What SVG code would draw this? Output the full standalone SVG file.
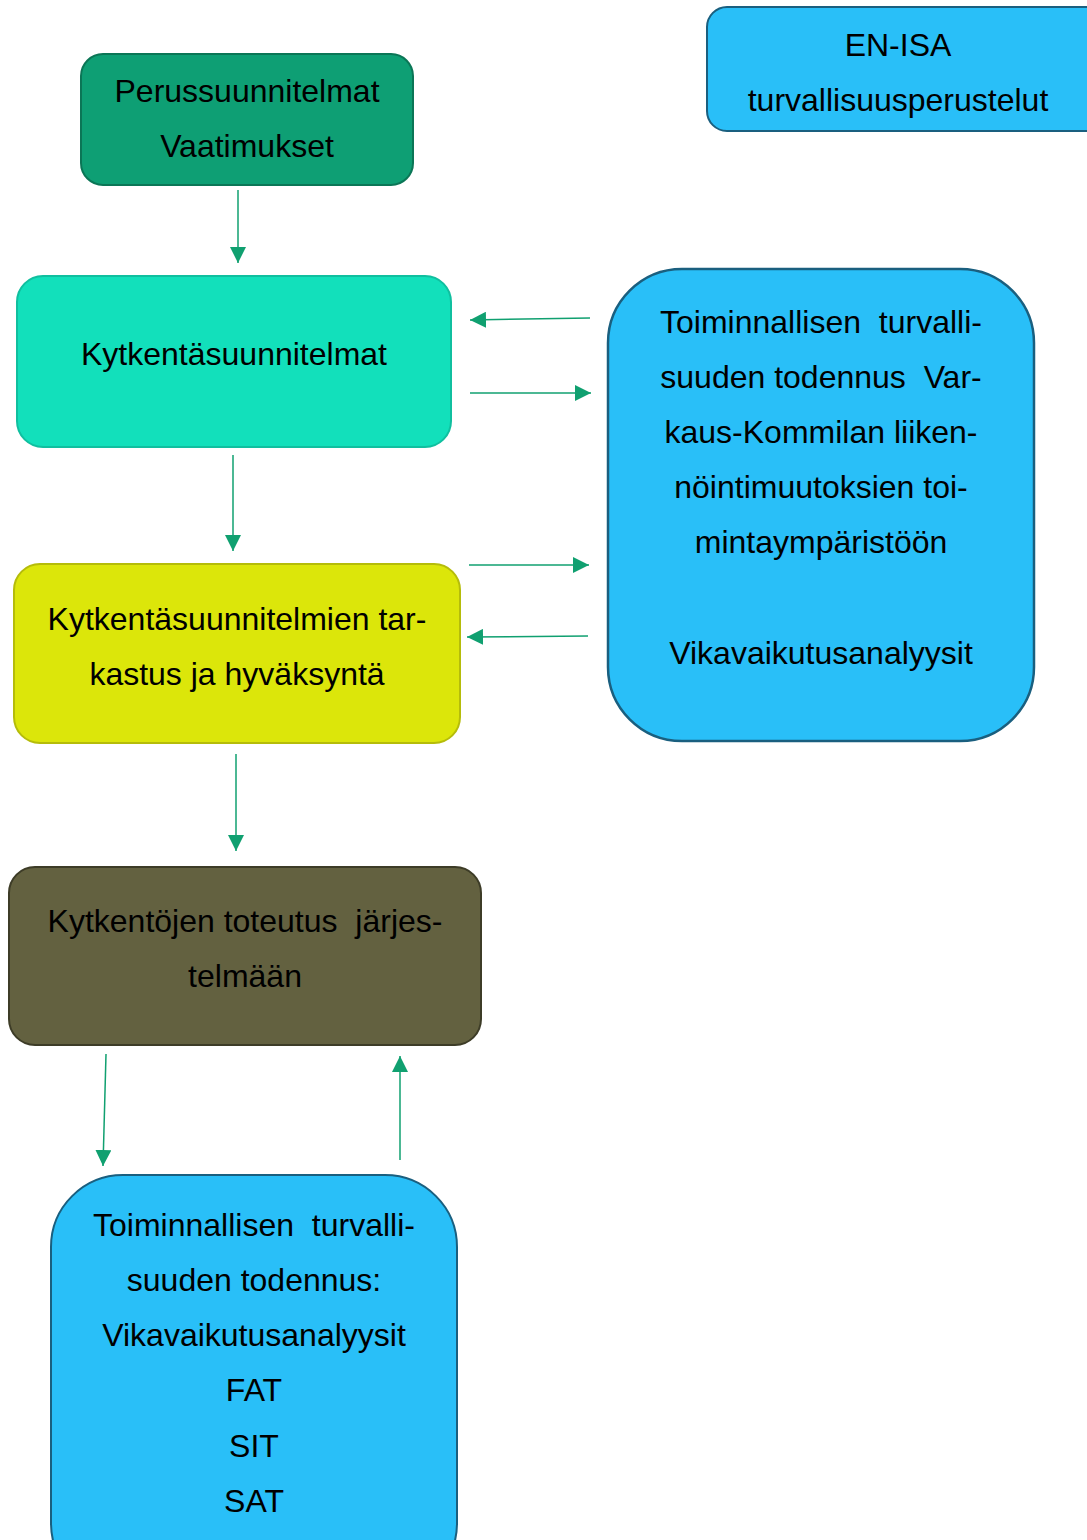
<svg xmlns="http://www.w3.org/2000/svg" width="1087" height="1540" viewBox="0 0 1087 1540">
<style>
text{font-family:"Liberation Sans",Arial,sans-serif;font-size:32px;fill:#000;text-anchor:middle}
.c{stroke:#10a070;stroke-width:1.5;fill:none}
</style>
<defs>
<marker id="ah" markerUnits="userSpaceOnUse" markerWidth="16" markerHeight="16" viewBox="0 0 16 16" refX="16" refY="8" orient="auto">
<path d="M0,0 L16,8 L0,16 Z" fill="#10a070"/>
</marker>
</defs>
<rect width="1087" height="1540" fill="#fff"/>
<g id="n1">
<rect x="81" y="54" width="332" height="131" rx="22" fill="#0e9f74" stroke="#0b7656" stroke-width="2"/>
<text x="247" y="102">Perussuunnitelmat</text>
<text x="247" y="157">Vaatimukset</text>
</g>
<g id="n2">
<rect x="17" y="276" width="434" height="171" rx="26" fill="#12e0bb" stroke="#10bf9f" stroke-width="2"/>
<text x="234" y="365">Kytkentäsuunnitelmat</text>
</g>
<g id="n3">
<rect x="14" y="564" width="446" height="179" rx="26" fill="#dce60a" stroke="#b5bc0a" stroke-width="2"/>
<text x="237" y="630">Kytkentäsuunnitelmien tar-</text>
<text x="237" y="685">kastus ja hyväksyntä</text>
</g>
<g id="n4">
<rect x="9" y="867" width="472" height="178" rx="26" fill="#636140" stroke="#3d3c27" stroke-width="2"/>
<text x="245" y="932" xml:space="preserve">Kytkentöjen toteutus  järjes-</text>
<text x="245" y="987">telmään</text>
</g>
<g id="n5">
<rect x="51" y="1175" width="406" height="420" rx="72" fill="#29bff8" stroke="#1a5f7f" stroke-width="2"/>
<text x="254" y="1236" xml:space="preserve">Toiminnallisen  turvalli-</text>
<text x="254" y="1291">suuden todennus:</text>
<text x="254" y="1346">Vikavaikutusanalyysit</text>
<text x="254" y="1401">FAT</text>
<text x="254" y="1457">SIT</text>
<text x="254" y="1512">SAT</text>
</g>
<g id="n6">
<rect x="707" y="7" width="400" height="124" rx="20" fill="#29bff8" stroke="#1a5f7f" stroke-width="2"/>
<text x="898" y="56">EN-ISA</text>
<text x="898" y="111">turvallisuusperustelut</text>
</g>
<g id="n7">
<rect x="608" y="269" width="426" height="472" rx="74" fill="#29bff8" stroke="#1a5f7f" stroke-width="2.5"/>
<text x="821" y="333" xml:space="preserve">Toiminnallisen  turvalli-</text>
<text x="821" y="388" xml:space="preserve">suuden todennus  Var-</text>
<text x="821" y="443">kaus-Kommilan liiken-</text>
<text x="821" y="498">nöintimuutoksien toi-</text>
<text x="821" y="553">mintaympäristöön</text>
<text x="821" y="664">Vikavaikutusanalyysit</text>
</g>
<g id="connectors">
<line class="c" x1="238" y1="190" x2="238" y2="263" marker-end="url(#ah)"/>
<line class="c" x1="590" y1="318" x2="470" y2="320" marker-end="url(#ah)"/>
<line class="c" x1="470" y1="393" x2="591" y2="393" marker-end="url(#ah)"/>
<line class="c" x1="233" y1="455" x2="233" y2="551" marker-end="url(#ah)"/>
<line class="c" x1="469" y1="565" x2="589" y2="565" marker-end="url(#ah)"/>
<line class="c" x1="588" y1="636" x2="467" y2="637" marker-end="url(#ah)"/>
<line class="c" x1="236" y1="754" x2="236" y2="851" marker-end="url(#ah)"/>
<line class="c" x1="106" y1="1054" x2="103" y2="1166" marker-end="url(#ah)"/>
<line class="c" x1="400" y1="1160" x2="400" y2="1056" marker-end="url(#ah)"/>
</g>
</svg>
